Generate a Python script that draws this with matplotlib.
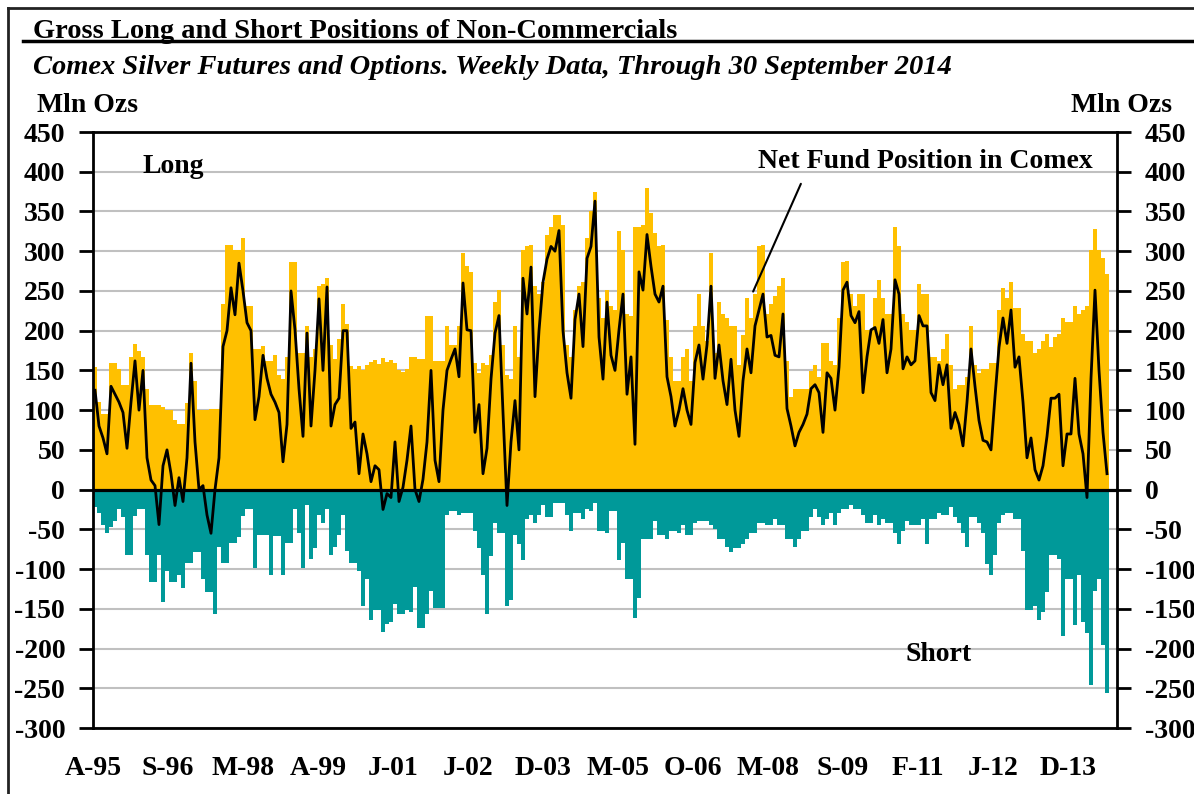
import matplotlib
matplotlib.use('Agg')
import matplotlib.pyplot as plt
from matplotlib.lines import Line2D
import numpy as np

# 4-week samples, Apr 1995 - Sep 2014 (Mln Ozs)
long_pos = [
    154, 110, 95, 95, 159, 159, 152, 131, 131, 167, 183, 175, 167, 127, 107, 107, 107, 104, 100, 100,
    88, 83, 83, 109, 172, 137, 100, 100, 100, 101, 101, 101, 234, 308, 308, 301, 301, 317, 231, 231,
    177, 177,
    181, 162, 162, 169, 144, 139, 167, 286, 286, 172, 172, 206, 167, 177, 256, 259, 266, 182, 164, 189,
    234, 209, 156, 152, 155, 150, 157, 160, 163, 158, 165, 161, 163, 159, 150, 148, 152, 167, 167, 164,
    164, 219, 219, 162, 162, 162, 206,
    182, 182, 206, 298, 281, 274, 159, 147, 159, 157, 169, 236, 251, 182, 144, 139, 206, 167, 301, 306,
    308, 256, 246, 261, 321, 331, 346, 346, 333, 182, 167, 226, 256, 261, 316, 350, 375, 241, 216, 251,
    231, 226, 326, 301, 221, 219, 331, 331,
    333, 380, 348, 323, 306, 308, 214, 167, 137, 137, 167, 177, 137, 206, 246, 206, 187, 298, 172, 236,
    221, 216, 206, 206, 157, 194, 241, 216, 246, 306, 308, 221, 234, 244, 256, 266, 162, 117, 127, 127,
    127, 127, 149, 157, 142, 184, 184,
    162, 157, 216, 286, 288, 246, 231, 246, 246, 201, 201, 241, 264, 241, 221, 221, 331, 306, 221, 211,
    201, 201, 259, 246, 246, 167, 167, 162, 177, 196, 157, 127, 132, 132, 142, 206, 157, 147, 152, 152,
    159, 159, 226, 254, 241, 261, 229, 229,
    196, 187, 187, 172, 177, 187, 196, 179, 192, 196, 216, 211, 211, 231, 221, 226, 231, 301, 328, 301,
    291, 271,
]

short_pos = [
    -22, -30, -45, -55, -47, -40, -25, -35, -82, -82, -33, -25, -25, -82, -116, -116, -82, -141, -102, -116,
    -116, -107, -124, -92, -92, -79, -79, -112, -129, -129, -157, -72, -92, -92, -67, -67, -60, -33, -25, -25,
    -99, -57,
    -57, -57, -107, -59, -59, -107, -67, -67, -25, -54, -99, -20, -87, -74, -32, -42, -25, -82, -72, -57,
    -32, -77, -92, -92, -102, -146, -112, -164, -151, -151, -179, -169, -166, -144, -156, -156, -151, -154, -122, -174,
    -174, -156, -127, -149, -149, -149, -32,
    -27, -27, -32, -30, -30, -30, -52, -74, -107, -156, -84, -42, -54, -54, -146, -139, -57, -69, -89, -37,
    -32, -42, -32, -20, -35, -35, -17, -17, -17, -32, -52, -30, -30, -37, -25, -27, -17, -52, -52, -54,
    -27, -27, -89, -67, -112, -112, -161, -137,
    -62, -62, -62, -40, -57, -57, -62, -52, -52, -54, -45, -57, -57, -42, -40, -40, -40, -45, -50, -62,
    -62, -72, -79, -74, -74, -69, -62, -54, -54, -42, -42, -45, -45, -37, -45, -45, -62, -62, -72, -62,
    -52, -52, -35, -25, -35, -45, -37,
    -30, -45, -30, -25, -25, -20, -25, -25, -32, -42, -42, -32, -45, -37, -42, -42, -54, -69, -52, -40,
    -45, -45, -45, -37, -69, -37, -37, -30, -32, -32, -22, -35, -42, -54, -72, -35, -35, -42, -54, -94,
    -107, -82, -42, -32, -30, -30, -37, -37,
    -77, -151, -151, -146, -164, -154, -129, -82, -82, -87, -184, -112, -112, -171, -107, -166, -181, -246, -127, -112,
    -196, -256,
]

net_pos = [
    125, 80, 65, 45, 130, 120, 110, 97, 52, 110, 162, 100, 150, 40, 12, 5, -44, 30, 50, 20,
    -20, 15, -15, 40, 159, 60, 0, 5, -32, -55, 0, 40, 180, 200, 254, 220, 285, 250, 210, 200,
    88, 117,
    169, 140, 120, 110, 97, 35, 82, 250, 201, 127, 67, 197, 80, 150, 240, 150, 255, 80, 107, 115,
    200, 200, 77, 85, 20, 70, 45, 10, 30, 25, -25, -5, -10, 60, -15, 3, 37, 80, 0, -15,
    13, 60, 150, 37, 10, 100, 150,
    164, 177, 142, 260, 201, 200, 72, 107, 20, 52, 139, 197, 219, 97, -20, 60, 112, 50, 266, 221,
    280, 117, 200, 261, 290, 306, 300, 326, 200, 147, 115, 214, 246, 180, 291, 306, 363, 192, 139, 236,
    169, 150, 201, 246, 120, 167, 57, 274,
    251, 321, 281, 246, 236, 256, 142, 117, 80, 100, 127, 100, 82, 160, 182, 139, 182, 256, 140, 182,
    137, 107, 164, 100, 67, 137, 177, 147, 206, 226, 246, 192, 194, 169, 167, 221, 102, 80, 55, 72,
    82, 95, 127, 132, 122, 72, 147,
    140, 100, 154, 251, 261, 219, 210, 224, 122, 167, 201, 204, 184, 214, 147, 177, 264, 246, 152, 167,
    157, 162, 219, 206, 206, 122, 112, 157, 132, 157, 77, 97, 82, 55, 110, 177, 130, 87, 62, 60,
    50, 117, 179, 216, 184, 226, 154, 167,
    110, 40, 65, 25, 12, 30, 67, 115, 115, 120, 30, 70, 70, 140, 70, 45, -10, 140, 251, 150,
    72, 20,
]

x_labels = ['A-95', 'S-96', 'M-98', 'A-99', 'J-01', 'J-02', 'D-03', 'M-05',
            'O-06', 'M-08', 'S-09', 'F-11', 'J-12', 'D-13']

WEEKS_PER_SAMPLE = 4
WEEKS_PER_LABEL = 75

plt.rcParams['font.family'] = ['Liberation Serif', 'DejaVu Serif']
plt.rcParams['font.weight'] = 'bold'
plt.rcParams['axes.unicode_minus'] = False

W, H = 1194, 794
fig = plt.figure(figsize=(W / 100, H / 100), dpi=100)
L, R, T, B = 93, 1117, 132, 728
ax = fig.add_axes([L / W, 1 - B / H, (R - L) / W, (B - T) / H])

x = np.arange(len(long_pos)) * WEEKS_PER_SAMPLE + WEEKS_PER_SAMPLE / 2
ax.bar(x, long_pos, width=WEEKS_PER_SAMPLE, color='#FFC000', linewidth=0, zorder=2)
ax.bar(x, short_pos, width=WEEKS_PER_SAMPLE, color='#009999', linewidth=0, zorder=2)
ax.plot(x, net_pos, color='black', lw=2.0, zorder=4)
ax.axhline(0, color='black', lw=2.3, zorder=3)

ax.set_xlim(0, 1024)
ax.set_ylim(-300, 450)
ax.set_yticks(range(-300, 451, 50))
ax.yaxis.grid(True, color='#C0C0C0', lw=1.5)
ax.set_axisbelow(True)
ax.tick_params(axis='y', direction='out', length=10, width=2, left=True, right=True,
               labelleft=True, labelright=True, labelsize=20, pad=10)
ax.set_xticks(np.arange(len(x_labels)) * WEEKS_PER_LABEL)
ax.set_xticklabels(x_labels)
ax.tick_params(axis='x', length=0, labelsize=20, pad=20)
for sp in ax.spines.values():
    sp.set_linewidth(2)
    sp.set_color('black')

ax.text(80, 407, 'Long', ha='center', va='center', fontsize=20, fontweight='bold')
ax.text(832, 413, 'Net Fund Position in Comex', ha='center', va='center', fontsize=20, fontweight='bold')
ax.text(846, -208, 'Short', ha='center', va='center', fontsize=20, fontweight='bold')
ax.annotate('', xy=(659, 246), xytext=(709, 388),
            arrowprops=dict(arrowstyle='-', color='black', lw=1.5))

fig.text(33 / W, 1 - 31 / H, 'Gross Long and Short Positions of Non-Commercials',
         ha='left', va='center', fontsize=20.5, fontweight='bold')
fig.text(33 / W, 1 - 67 / H, 'Comex Silver Futures and Options. Weekly Data, Through 30 September 2014',
         ha='left', va='center', fontsize=20.5, fontweight='bold', style='italic')
fig.text(37 / W, 1 - 105 / H, 'Mln Ozs', ha='left', va='center', fontsize=20, fontweight='bold')
fig.text(1172 / W, 1 - 105 / H, 'Mln Ozs', ha='right', va='center', fontsize=20, fontweight='bold')

fig.add_artist(Line2D([8 / W, 1], [1 - 8 / H, 1 - 8 / H], color='#222222', lw=2, transform=fig.transFigure))
fig.add_artist(Line2D([8 / W, 8 / W], [0, 1 - 8 / H], color='#222222', lw=2, transform=fig.transFigure))
fig.add_artist(Line2D([23 / W, 1], [1 - 41 / H, 1 - 41 / H], color='black', lw=2.5, transform=fig.transFigure))

fig.savefig('out.png', dpi=100)
